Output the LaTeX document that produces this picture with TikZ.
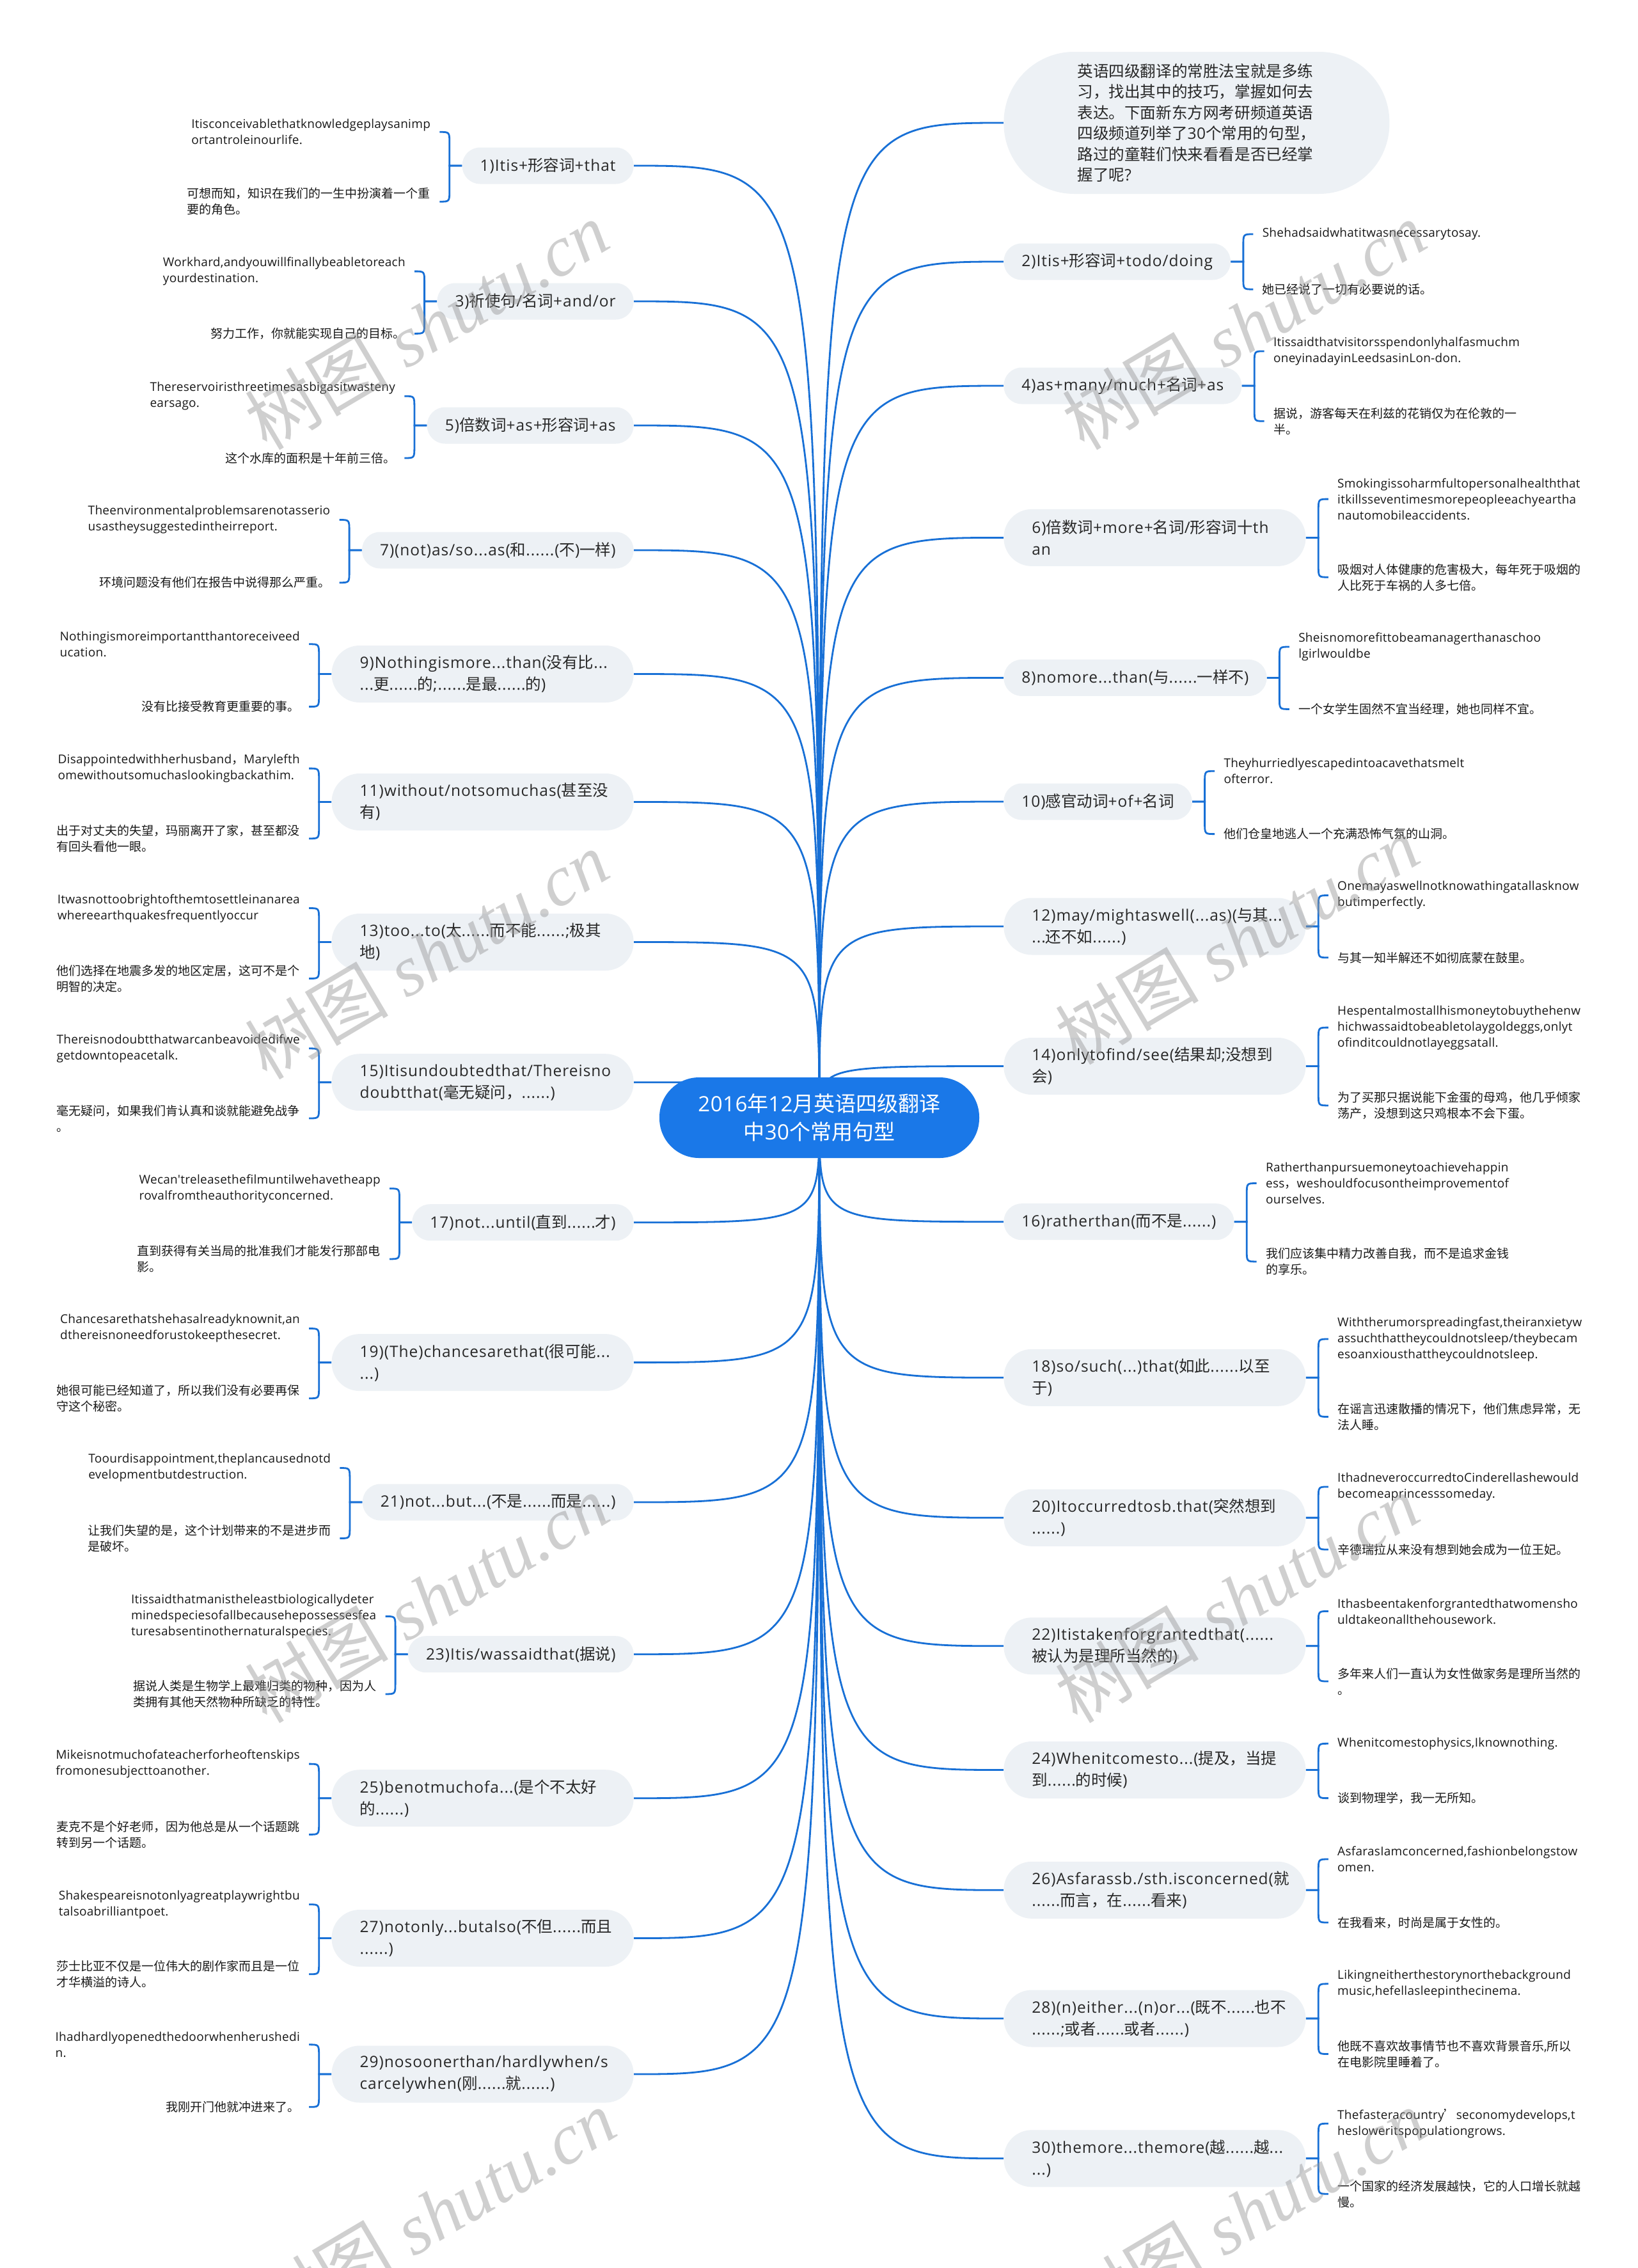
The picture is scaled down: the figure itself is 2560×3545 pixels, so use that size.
\documentclass[tikz,border=0pt]{standalone}
\usepackage{fontspec}
\setmainfont{Open Sans}
\newfontfamily\latleaf{Open Sans}[LetterSpace=1.5]
\newfontfamily\latnode{Open Sans}[LetterSpace=4]
\newfontfamily\cjkf{Noto Sans CJK SC}
\newfontfamily\wmf{Liberation Serif}
\let\curlat\latleaf
\def\latf{\curlat}
\usetikzlibrary{calc}
\pgfdeclarelayer{bg}
\pgfsetlayers{bg,main}
\definecolor{lineblue}{RGB}{24,112,214}
\definecolor{rootblue}{RGB}{26,120,232}
\definecolor{nodefill}{RGB}{237,241,245}
\definecolor{nodetext}{RGB}{40,40,40}
\definecolor{leaftext}{RGB}{25,25,25}
\definecolor{wmgray}{RGB}{150,150,150}
\lefthyphenmin=62 \righthyphenmin=62
\XeTeXinterchartokenstate=1
\newXeTeXintercharclass\cjkcls
\newcount\cjkcnt
\cjkcnt="4E00 \loop\XeTeXcharclass\cjkcnt=\cjkcls \ifnum\cjkcnt<"9FFF \advance\cjkcnt by 1 \repeat
\cjkcnt="3000 \loop\XeTeXcharclass\cjkcnt=\cjkcls \ifnum\cjkcnt<"303F \advance\cjkcnt by 1 \repeat
\cjkcnt="FF00 \loop\XeTeXcharclass\cjkcnt=\cjkcls \ifnum\cjkcnt<"FFEF \advance\cjkcnt by 1 \repeat
\XeTeXcharclass"2019=\cjkcls
\XeTeXinterchartoks 0 \cjkcls = {\cjkf}
\XeTeXinterchartoks 4095 \cjkcls = {\cjkf}
\XeTeXinterchartoks \cjkcls 0 = {\latf}
\XeTeXinterchartoks \cjkcls 4095 = {\latf}
\newcommand\leafL[4]{\path (#1.west) ++(-35,0) coordinate (#2t); \node[leaf,anchor=east] (#2) at (#2t |- 0,#3) {#4};}
\newcommand\leafR[4]{\path (#1.east) ++(35,0) coordinate (#2t); \node[leaf,anchor=west] (#2) at (#2t |- 0,#3) {#4};}
\newcommand\brL[3]{\draw[conn] (#1.west) -- ++(-19.5,0) -- ($(#2.east)+(15.5,#3*18)$) .. controls ($(#2.east)+(15.5,0)$) .. (#2.east);}
\newcommand\brR[3]{\draw[conn] (#1.east) -- ++(19.5,0) -- ($(#2.west)+(-15.5,#3*18)$) .. controls ($(#2.west)+(-15.5,0)$) .. (#2.west);}
\begin{document}
\begin{tikzpicture}[x=0.5pt,y=-0.5pt,
  conn/.style={draw=lineblue,line width=1.4pt},
  mnode/.style={fill=nodefill,text=nodetext,font=\fontsize{12.25pt}{17pt}\selectfont\let\curlat\latnode\latnode,align=left,inner ysep=0pt},
  one/.style={mnode,rounded corners=14pt,inner xsep=14pt,minimum height=28.5pt},
  two/.style={mnode,rounded corners=21.9pt,inner xsep=22pt,minimum height=44.5pt,text width=192pt},
  leaf/.style={text=leaftext,font=\fontsize{9.5pt}{12.5pt}\selectfont\let\curlat\latleaf\latleaf,align=left,inner xsep=7pt,inner ysep=1pt},
  wm/.style={text=wmgray,opacity=0.45,rotate=30.6,font=\fontsize{56pt}{60pt}\selectfont}
]
\useasboundingbox (0,0) rectangle (2560,3545);
\begin{pgfonlayer}{bg}
\fill[white] (0,0) rectangle (2560,3545);
\end{pgfonlayer}

% root
\node[fill=rootblue,text=white,rounded corners=31pt,align=center,font=\fontsize{16.5pt}{22pt}\selectfont\let\curlat\latleaf\latleaf,minimum width=250pt,minimum height=63pt] (root) at (1281,1747) {2016年12月英语四级翻译\\中30个常用句型};

% left nodes
\node[one,anchor=east] (n1) at (991,259) {1)Itis+形容词+that};
\node[one,anchor=east] (n3) at (991,471) {3)祈使句/名词+and/or};
\node[one,anchor=east] (n5) at (991,665) {5)倍数词+as+形容词+as};
\node[one,anchor=east] (n7) at (991,860) {7)(not)as/so...as(和......(不)一样)};
\node[two,anchor=east] (n9) at (991,1053.5) {9)Nothingismore...than(没有比...\\...更......的;......是最......的)};
\node[two,anchor=east] (n11) at (991,1253.5) {11)without/notsomuchas(甚至没\\有)};
\node[two,anchor=east] (n13) at (991,1472.5) {13)too...to(太......而不能......;极其\\地)};
\node[two,anchor=east] (n15) at (991,1691.7) {15)Itisundoubtedthat/Thereisno\\doubtthat(毫无疑问，......)};
\node[one,anchor=east] (n17) at (991,1910.7) {17)not...until(直到......才)};
\node[two,anchor=east] (n19) at (991,2129.6) {19)(The)chancesarethat(很可能...\\...)};
\node[one,anchor=east] (n21) at (991,2348) {21)not...but...(不是......而是......)};
\node[one,anchor=east] (n23) at (991,2585.7) {23)Itis/wassaidthat(据说)};
\node[two,anchor=east] (n25) at (991,2810.7) {25)benotmuchofa...(是个不太好\\的......)};
\node[two,anchor=east] (n27) at (991,3029.5) {27)notonly...butalso(不但......而且\\......)};
\node[two,anchor=east] (n29) at (991,3242) {29)nosoonerthan/hardlywhen/s\\carcelywhen(刚......就......)};

% right nodes
\node[mnode,anchor=west,rounded corners=55pt,inner xsep=54.5pt,minimum height=111pt,minimum width=301.5pt,font=\fontsize{12.3pt}{16.25pt}\selectfont] (intro) at (1569,192) {英语四级翻译的常胜法宝就是多练\\习，找出其中的技巧，掌握如何去\\表达。下面新东方网考研频道英语\\四级频道列举了30个常用的句型，\\路过的童鞋们快来看看是否已经掌\\握了呢?};
\node[one,anchor=west] (n2) at (1569,409) {2)Itis+形容词+todo/doing};
\node[one,anchor=west] (n4) at (1569,603) {4)as+many/much+名词+as};
\node[two,anchor=west] (n6) at (1569,840.4) {6)倍数词+more+名词/形容词十th\\an};
\node[one,anchor=west] (n8) at (1569,1059.4) {8)nomore...than(与......一样不)};
\node[one,anchor=west] (n10) at (1569,1253) {10)感官动词+of+名词};
\node[two,anchor=west] (n12) at (1569,1448) {12)may/mightaswell(...as)(与其...\\...还不如......)};
\node[two,anchor=west] (n14) at (1569,1666.5) {14)onlytofind/see(结果却;没想到\\会)};
\node[one,anchor=west] (n16) at (1569,1909.7) {16)ratherthan(而不是......)};
\node[two,anchor=west] (n18) at (1569,2153.3) {18)so/such(...)that(如此......以至\\于)};
\node[two,anchor=west] (n20) at (1569,2372.3) {20)Itoccurredtosb.that(突然想到\\......)};
\node[two,anchor=west] (n22) at (1569,2572.8) {22)Itistakenforgrantedthat(......\\被认为是理所当然的)};
\node[two,anchor=west] (n24) at (1569,2766.5) {24)Whenitcomesto...(提及，当提\\到......的时候)};
\node[two,anchor=west] (n26) at (1569,2954.3) {26)Asfarassb./sth.isconcerned(就\\......而言，在......看来)};
\node[two,anchor=west] (n28) at (1569,3155) {28)(n)either...(n)or...(既不......也不\\......;或者......或者......)};
\node[two,anchor=west] (n30) at (1569,3373.8) {30)themore...themore(越......越...\\...)};

% left leaves
\leafL{n1}{l1a}{206.3}{Itisconceivablethatknowledgeplaysanimp\\ortantroleinourlife.}
\leafL{n1}{l1b}{315.2}{可想而知，知识在我们的一生中扮演着一个重\\要的角色。}
\leafL{n3}{l3a}{424.1}{Workhard,andyouwillfinallybeabletoreach\\yourdestination.}
\leafL{n3}{l3b}{521.4}{努力工作，你就能实现自己的目标。}
\leafL{n5}{l5a}{619.2}{Thereservoiristhreetimesasbigasitwasteny\\earsago.}
\leafL{n5}{l5b}{716}{这个水库的面积是十年前三倍。}
\leafL{n7}{l7a}{812.5}{Theenvironmentalproblemsarenotasserio\\usastheysuggestedintheirreport.}
\leafL{n7}{l7b}{910.7}{环境问题没有他们在报告中说得那么严重。}
\leafL{n9}{l9a}{1006.8}{Nothingismoreimportantthantoreceiveed\\ucation.}
\leafL{n9}{l9b}{1104.6}{没有比接受教育更重要的事。}
\leafL{n11}{l11a}{1201.1}{Disappointedwithherhusband，Marylefth\\omewithoutsomuchaslookingbackathim.}
\leafL{n11}{l11b}{1310.7}{出于对丈夫的失望，玛丽离开了家，甚至都没\\有回头看他一眼。}
\leafL{n13}{l13a}{1419.5}{Itwasnottoobrightofthemtosettleinanarea\\whereearthquakesfrequentlyoccur}
\leafL{n13}{l13b}{1529.5}{他们选择在地震多发的地区定居，这可不是个\\明智的决定。}
\leafL{n15}{l15a}{1638.8}{Thereisnodoubtthatwarcanbeavoidedifwe\\getdowntopeacetalk.}
\leafL{n15}{l15b}{1748}{毫无疑问，如果我们肯认真和谈就能避免战争\\。}
\leafL{n17}{l17a}{1857.7}{Wecan'treleasethefilmuntilwehavetheapp\\rovalfromtheauthorityconcerned.}
\leafL{n17}{l17b}{1967.9}{直到获得有关当局的批准我们才能发行那部电\\影。}
\leafL{n19}{l19a}{2076.5}{Chancesarethatshehasalreadyknownit,an\\dthereisnoneedforustokeepthesecret.}
\leafL{n19}{l19b}{2185.7}{她很可能已经知道了，所以我们没有必要再保\\守这个秘密。}
\leafL{n21}{l21a}{2294.5}{Toourdisappointment,theplancausednotd\\evelopmentbutdestruction.}
\leafL{n21}{l21b}{2404.5}{让我们失望的是，这个计划带来的不是进步而\\是破坏。}
\leafL{n23}{l23a}{2526.4}{Itissaidthatmanistheleastbiologicallydeter\\minedspeciesofallbecausehepossessesfea\\turesabsentinothernaturalspecies.}
\leafL{n23}{l23b}{2647.9}{据说人类是生物学上最难归类的物种，因为人\\类拥有其他天然物种所缺乏的特性。}
\leafL{n25}{l25a}{2757.1}{Mikeisnotmuchofateacherforheoftenskips\\fromonesubjecttoanother.}
\leafL{n25}{l25b}{2867.4}{麦克不是个好老师，因为他总是从一个话题跳\\转到另一个话题。}
\leafL{n27}{l27a}{2976.7}{Shakespeareisnotonlyagreatplaywrightbu\\talsoabrilliantpoet.}
\leafL{n27}{l27b}{3085.8}{莎士比亚不仅是一位伟大的剧作家而且是一位\\才华横溢的诗人。}
\leafL{n29}{l29a}{3195.8}{Ihadhardlyopenedthedoorwhenherushedi\\n.}
\leafL{n29}{l29b}{3293.3}{我刚开门他就冲进来了。}

% right leaves
\leafR{n2}{r2a}{366}{Shehadsaidwhatitwasnecessarytosay.}
\leafR{n2}{r2b}{452.2}{她已经说了一切有必要说的话。}
\leafR{n4}{r4a}{548.9}{Itissaidthatvisitorsspendonlyhalfasmuchm\\oneyinadayinLeedsasinLon-don.}
\leafR{n4}{r4b}{658.3}{据说，游客每天在利兹的花销仅为在伦敦的一\\半。}
\leafR{n6}{r6a}{780.1}{Smokingissoharmfultopersonalhealththat\\itkillsseventimesmorepeopleeachyeartha\\nautomobileaccidents.}
\leafR{n6}{r6b}{902.2}{吸烟对人体健康的危害极大，每年死于吸烟的\\人比死于车祸的人多七倍。}
\leafR{n8}{r8a}{1011}{Sheisnomorefittobeamanagerthanaschoo\\lgirlwouldbe}
\leafR{n8}{r8b}{1108.4}{一个女学生固然不宜当经理，她也同样不宜。}
\leafR{n10}{r10a}{1205.2}{Theyhurriedlyescapedintoacavethatsmelt\\ofterror.}
\leafR{n10}{r10b}{1303.6}{他们仓皇地逃人一个充满恐怖气氛的山洞。}
\leafR{n12}{r12a}{1399.5}{Onemayaswellnotknowathingatallasknow\\butimperfectly.}
\leafR{n12}{r12b}{1496.8}{与其一知半解还不如彻底蒙在鼓里。}
\leafR{n14}{r14a}{1606.1}{Hespentalmostallhismoneytobuythehenw\\hichwassaidtobeabletolaygoldeggs,onlyt\\ofinditcouldnotlayeggsatall.}
\leafR{n14}{r14b}{1727.9}{为了买那只据说能下金蛋的母鸡，他几乎倾家\\荡产，没想到这只鸡根本不会下蛋。}
\leafR{n16}{r16a}{1849.5}{Ratherthanpursuemoneytoachievehappin\\ess，weshouldfocusontheimprovementof\\ourselves.}
\leafR{n16}{r16b}{1971.9}{我们应该集中精力改善自我，而不是追求金钱\\的享乐。}
\leafR{n18}{r18a}{2093}{Withtherumorspreadingfast,theiranxietyw\\assuchthattheycouldnotsleep/theybecam\\esoanxiousthattheycouldnotsleep.}
\leafR{n18}{r18b}{2214.5}{在谣言迅速散播的情况下，他们焦虑异常，无\\法人睡。}
\leafR{n20}{r20a}{2323.9}{IthadneveroccurredtoCinderellashewould\\becomeaprincesssomeday.}
\leafR{n20}{r20b}{2422}{辛德瑞拉从来没有想到她会成为一位王妃。}
\leafR{n22}{r22a}{2518.4}{Ithasbeentakenforgrantedthatwomensho\\uldtakeonallthehousework.}
\leafR{n22}{r22b}{2628}{多年来人们一直认为女性做家务是理所当然的\\。}
\leafR{n24}{r24a}{2725.3}{Whenitcomestophysics,Iknownothing.}
\leafR{n24}{r24b}{2810.6}{谈到物理学，我一无所知。}
\leafR{n26}{r26a}{2906}{AsfarasIamconcerned,fashionbelongstow\\omen.}
\leafR{n26}{r26b}{3005}{在我看来，时尚是属于女性的。}
\leafR{n28}{r28a}{3100.8}{Likingneitherthestorynorthebackground\\music,hefellasleepinthecinema.}
\leafR{n28}{r28b}{3210.5}{他既不喜欢故事情节也不喜欢背景音乐,所以\\在电影院里睡着了。}
\leafR{n30}{r30a}{3319.2}{Thefasteracountry’seconomydevelops,t\\hesloweritspopulationgrows.}
\leafR{n30}{r30b}{3429.2}{一个国家的经济发展越快，它的人口增长就越\\慢。}

\begin{pgfonlayer}{bg}
\foreach \nn in {n1,n3,n5,n7,n9,n11,n13,n15,n17,n19,n21,n23,n25,n27,n29}
  \draw[conn] (root.center) .. controls (root.center |- \nn.east) .. (\nn.east);
\foreach \nn in {intro,n2,n4,n6,n8,n10,n12,n14,n16,n18,n20,n22,n24,n26,n28,n30}
  \draw[conn] (root.center) .. controls (root.center |- \nn.west) .. (\nn.west);
\foreach \nn in {1,3,5,7,9,11,13,15,17,19,21,23,25,27,29}
  {\brL{n\nn}{l\nn a}{1} \brL{n\nn}{l\nn b}{-1}}
\foreach \nn in {2,4,6,8,10,12,14,16,18,20,22,24,26,28,30}
  {\brR{n\nn}{r\nn a}{1} \brR{n\nn}{r\nn b}{-1}}
\end{pgfonlayer}

% watermarks
\foreach \wx/\wy in {667/509,1945/509,667/1493,1934/1470,667/2499,1934/2499,678/3460,1945/3460}
  \node[wm] at (\wx,\wy) {{\cjkf 树图} {\wmf\itshape shutu.cn}};
\end{tikzpicture}
\end{document}
